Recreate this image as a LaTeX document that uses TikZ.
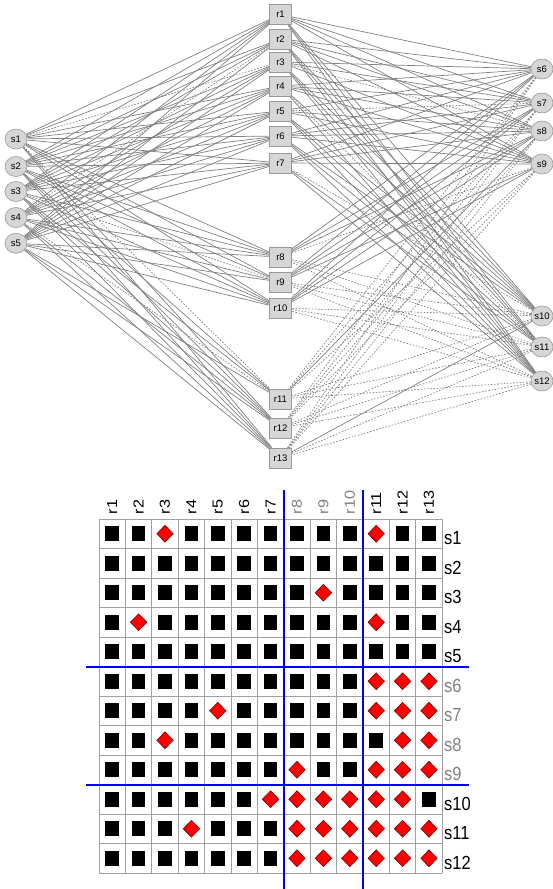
\documentclass[tikz,border=0pt]{standalone}
\usepackage{fontspec}
\setmainfont{Liberation Sans}
\usetikzlibrary{shapes.geometric,backgrounds}
\definecolor{nodefill}{HTML}{D6D6D6}
\definecolor{nodeline}{HTML}{999999}
\definecolor{linkgray}{HTML}{808080}
\definecolor{gridgray}{HTML}{A0A0A0}
\definecolor{labgray}{HTML}{808080}
\begin{document}
\begin{tikzpicture}[x=1pt,y=-1pt,
  snode/.style={ellipse, draw=nodeline, fill=nodefill, line width=0.6pt, minimum width=22pt, minimum height=20pt, inner sep=0pt, font=\fontsize{9.5}{9.5}\selectfont},
  rnode/.style={rectangle, draw=nodeline, fill=nodefill, line width=0.6pt, minimum width=22pt, minimum height=20pt, inner sep=0pt, font=\fontsize{9.5}{9.5}\selectfont},
  solidlink/.style={draw=linkgray, line width=0.7pt},
  dashlink/.style={draw=linkgray, line width=0.7pt, dash pattern=on 1.6pt off 1.6pt},
  gridline/.style={draw=gridgray, line width=0.9pt},
  bluerule/.style={draw=blue, line width=2pt},
  collab/.style={rotate=90, anchor=west, inner sep=0pt, font=\fontsize{14.5}{14.5}\selectfont},
  rowlab/.style={anchor=base west, inner sep=0pt, font=\fontsize{16.5}{16.5}\selectfont},
  blacksq/.style={fill=black},
  reddia/.style={fill=red, draw=red!45!black, line width=0.6pt}
]
\useasboundingbox (0,0) rectangle (552,889);

% ---------- network ----------
\foreach \i/\y in {1/139,2/166.5,3/191.5,4/217.5,5/243.3}
  \node[snode] (s\i) at (16,\y) {s\i};
\foreach \i/\y in {6/69,7/103,8/131,9/164,10/316,11/347,12/381}
  \node[snode] (s\i) at (542,\y) {s\i};
\foreach \i/\y in {1/14.5,2/39,3/62,4/86,5/111,6/136,7/163,8/257,9/282,10/308,11/399,12/428,13/458}
  \node[rnode] (r\i) at (280.5,\y) {r\i};

\begin{pgfonlayer}{background}
\foreach \s/\rl in {1/{1,2,4,5,6,7,8,9,10,12,13},
                    2/{1,...,13},
                    3/{1,2,3,4,5,6,7,8,10,11,12,13},
                    4/{1,3,4,5,6,7,8,9,10,12,13},
                    5/{1,...,13},
                    6/{1,...,10},
                    7/{1,2,3,4,6,7,8,9,10},
                    8/{1,2,4,5,6,7,8,9,10,11},
                    9/{1,2,3,4,5,6,7,9,10},
                    10/{1,2,3,4,5,6,13},
                    11/{1,2,3,5,6,7},
                    12/{1,...,7}}
  \foreach \r in \rl
    \draw[solidlink] (s\s) -- (r\r);
\foreach \s/\r in {1/3,1/11,3/9,4/2,4/11,6/11,6/12,6/13,7/5,7/11,7/12,7/13,8/3,8/12,8/13,9/8,9/11,9/12,9/13,10/7,10/8,10/9,10/10,10/11,10/12,11/4,11/8,11/9,11/10,11/11,11/12,11/13,12/8,12/9,12/10,12/11,12/12,12/13}
  \draw[dashlink] (s\s) -- (r\r);
\end{pgfonlayer}

% ---------- matrix ----------
\foreach \c in {0,...,13}
  \draw[gridline] ({99+\c*26.4},519) -- ({99+\c*26.4},873);
\foreach \rr in {0,...,12}
  \draw[gridline] (99,{519+\rr*29.5}) -- (442.2,{519+\rr*29.5});

\foreach \s/\rl in {1/{1,2,4,5,6,7,8,9,10,12,13},
                    2/{1,...,13},
                    3/{1,2,3,4,5,6,7,8,10,11,12,13},
                    4/{1,3,4,5,6,7,8,9,10,12,13},
                    5/{1,...,13},
                    6/{1,...,10},
                    7/{1,2,3,4,6,7,8,9,10},
                    8/{1,2,4,5,6,7,8,9,10,11},
                    9/{1,2,3,4,5,6,7,9,10},
                    10/{1,2,3,4,5,6,13},
                    11/{1,2,3,5,6,7},
                    12/{1,...,7}}
  \foreach \r in \rl {
    \pgfmathsetmacro{\cx}{99+(\r-0.5)*26.4}
    \pgfmathsetmacro{\cy}{519+(\s-0.5)*29.5}
    \fill[blacksq] ({\cx-6.8},{\cy-7.7}) rectangle ({\cx+6.8},{\cy+7.7});
  }
\foreach \s/\r in {1/3,1/11,3/9,4/2,4/11,6/11,6/12,6/13,7/5,7/11,7/12,7/13,8/3,8/12,8/13,9/8,9/11,9/12,9/13,10/7,10/8,10/9,10/10,10/11,10/12,11/4,11/8,11/9,11/10,11/11,11/12,11/13,12/8,12/9,12/10,12/11,12/12,12/13} {
    \pgfmathsetmacro{\cx}{99+(\r-0.5)*26.4}
    \pgfmathsetmacro{\cy}{519+(\s-0.5)*29.5}
    \filldraw[reddia] (\cx,{\cy-8.4}) -- ({\cx+8.2},\cy) -- (\cx,{\cy+8.4}) -- ({\cx-8.2},\cy) -- cycle;
  }

% blue separators
\coordinate (v1t) at (283.8,490); \coordinate (v1b) at (283.8,889);
\coordinate (v2t) at (363,490);   \coordinate (v2b) at (363,889);
\coordinate (h1l) at (86,666.5);  \coordinate (h1r) at (469,666.5);
\coordinate (h2l) at (86,784.5);  \coordinate (h2r) at (469,784.5);
\draw[bluerule] (v1t) -- (v1b);
\draw[bluerule] (v2t) -- (v2b);
\draw[bluerule] (h1l) -- (h1r);
\draw[bluerule] (h2l) -- (h2r);

% column labels
\foreach \r/\col in {1/black,2/black,3/black,4/black,5/black,6/black,7/black,8/labgray,9/labgray,10/labgray,11/black,12/black,13/black}
  \node[collab, text=\col] (c\r) at ({99+(\r-0.5)*26.4},514.5) {\scalebox{1.12}[1]{r\r}};
% row labels
\foreach \s/\col in {1/black,2/black,3/black,4/black,5/black,6/labgray,7/labgray,8/labgray,9/labgray,10/black,11/black,12/black}
  \node[rowlab, text=\col] (l\s) at (444,{519+(\s-0.5)*29.5+11}) {\scalebox{1}[1.15]{s\s}};
\end{tikzpicture}
\end{document}
